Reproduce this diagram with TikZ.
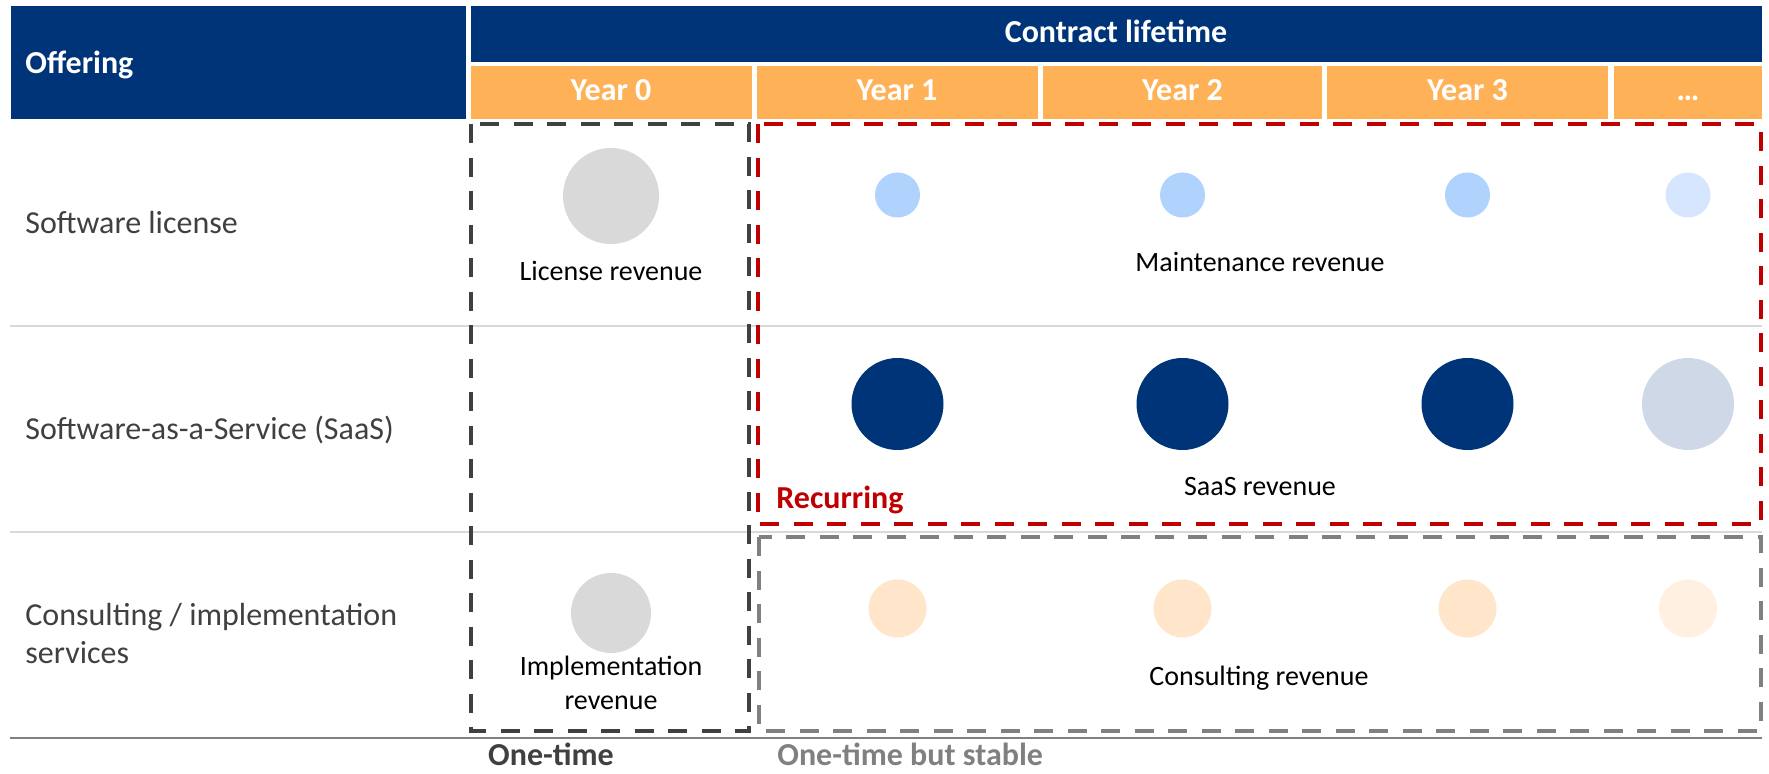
\documentclass[tikz,border=0pt]{standalone}
\usepackage{fontspec}
\setmainfont{Carlito}
\definecolor{hdrblue}{HTML}{003478}
\definecolor{hdrorange}{HTML}{FFB157}
\definecolor{recred}{HTML}{C00000}
\definecolor{onegray}{HTML}{404040}
\definecolor{stablegray}{HTML}{808080}
\definecolor{sepgray}{HTML}{D9D9D9}
\definecolor{revgray}{HTML}{D9D9D9}
\definecolor{mntblue}{HTML}{B0D3FD}
\definecolor{mntfade}{HTML}{D6E6FE}
\definecolor{saasfade}{HTML}{CED8E6}
\definecolor{consorange}{HTML}{FFE5C9}
\definecolor{consfade}{HTML}{FFF0E1}
\begin{document}
\begin{tikzpicture}[x=0.5pt,y=-0.5pt,line cap=butt,line join=miter,
		hdrtxt/.style={anchor=base,inner sep=0pt,text=white,font=\bfseries\fontsize{16}{19}\selectfont},
		rowtxt/.style={anchor=base west,inner sep=0pt,text=onegray,font=\fontsize{16}{19}\selectfont},
		revtxt/.style={anchor=base,inner sep=0pt,text=black,font=\fontsize{14}{16.5}\selectfont},
		cattxt/.style={inner sep=0pt,font=\bfseries\fontsize{16}{19}\selectfont},
		bub/.style={circle,inner sep=0pt,draw=none},
		catbox/.style={line width=2pt,dash pattern=on 9.5pt off 7.25pt},
		rowsep/.style={draw=sepgray,line width=1pt}]
		\useasboundingbox (0,0) rectangle (1769,774);
		% header
		\fill[hdrblue] (11,6) rectangle (466,119.5);
		\fill[hdrblue] (471,6) rectangle (1762,62.5);
		\fill[hdrorange] (471,66) rectangle (751.5,119.5);
		\fill[hdrorange] (756.5,66) rectangle (1037.5,119.5);
		\fill[hdrorange] (1042.5,66) rectangle (1322,119.5);
		\fill[hdrorange] (1327,66) rectangle (1608,119.5);
		\fill[hdrorange] (1613.5,66) rectangle (1762,119.5);
		\node[hdrtxt,anchor=base west] (offer) at (25,74) {Offering};
		\node[hdrtxt] (life) at (1116,42.5) {Contract lifetime};
		\node[hdrtxt] (yr0) at (611,101) {Year 0};
		\node[hdrtxt] (yr1) at (897,101) {Year 1};
		\node[hdrtxt] (yr2) at (1182.5,101) {Year 2};
		\node[hdrtxt] (yr3) at (1467.5,101) {Year 3};
		\node[hdrtxt] (yrn) at (1688,101) {\dots};
		% rows
		\draw[rowsep] (10,326) -- (1762,326);
		\draw[rowsep] (10,532) -- (1762,532);
		\draw[draw=stablegray,line width=1pt] (10,738) -- (1762,738);
		\node[rowtxt] (license) at (25,234) {Software license};
		\node[rowtxt] (saas) at (25,440) {Software-as-a-Service (SaaS)};
		\node[rowtxt,align=left] (consult) at (25,664) {Consulting / implementation\\services};
		% bubbles
		\node[bub,fill=revgray,minimum size=48pt] (lic) at (611,196) {};
		\node[bub,fill=mntblue,minimum size=22.5pt] (mnt1) at (897.5,195) {};
		\node[bub,fill=mntblue,minimum size=22.5pt] (mnt2) at (1182.5,195) {};
		\node[bub,fill=mntblue,minimum size=22.5pt] (mnt3) at (1467.5,195) {};
		\node[bub,fill=mntfade,minimum size=22.5pt] (mnt4) at (1688,195) {};
		\node[bub,fill=hdrblue,minimum size=46pt] (sub1) at (897.5,404) {};
		\node[bub,fill=hdrblue,minimum size=46pt] (sub2) at (1182.5,404) {};
		\node[bub,fill=hdrblue,minimum size=46pt] (sub3) at (1467.5,404) {};
		\node[bub,fill=saasfade,minimum size=46pt] (sub4) at (1688,404) {};
		\node[bub,fill=revgray,minimum size=40pt] (impl) at (611,613) {};
		\node[bub,fill=consorange,minimum size=29pt] (cons1) at (897.5,608.5) {};
		\node[bub,fill=consorange,minimum size=29pt] (cons2) at (1182.5,608.5) {};
		\node[bub,fill=consorange,minimum size=29pt] (cons3) at (1467.5,608.5) {};
		\node[bub,fill=consfade,minimum size=29pt] (cons4) at (1688,608.5) {};
		\node[revtxt] (licrev) at (611,281) {License revenue};
		\node[revtxt] (mntrev) at (1260,271.5) {Maintenance revenue};
		\node[revtxt] (saasrev) at (1260,495.5) {SaaS revenue};
		\node[revtxt,align=center] (implrev) at (611,710) {Implementation\\[0.5pt]revenue};
		\node[revtxt] (consrev) at (1259,685.5) {Consulting revenue};
		% revenue types
		\draw[catbox,draw=onegray] (471,124.5) rectangle (749,731.5);
		\draw[catbox,draw=recred] (758,124.5) rectangle (1760.5,524.5);
		\draw[catbox,draw=stablegray] (759,537.5) rectangle (1760.5,731.5);
		\node[cattxt,anchor=base west,text=recred] (recur) at (776,509) {Recurring};
		\node[cattxt,anchor=base,text=onegray] (onetime) at (551,766) {One-time};
		\node[cattxt,anchor=base west,text=stablegray] (stable) at (777,766) {One-time but stable};
\end{tikzpicture}
\end{document}
